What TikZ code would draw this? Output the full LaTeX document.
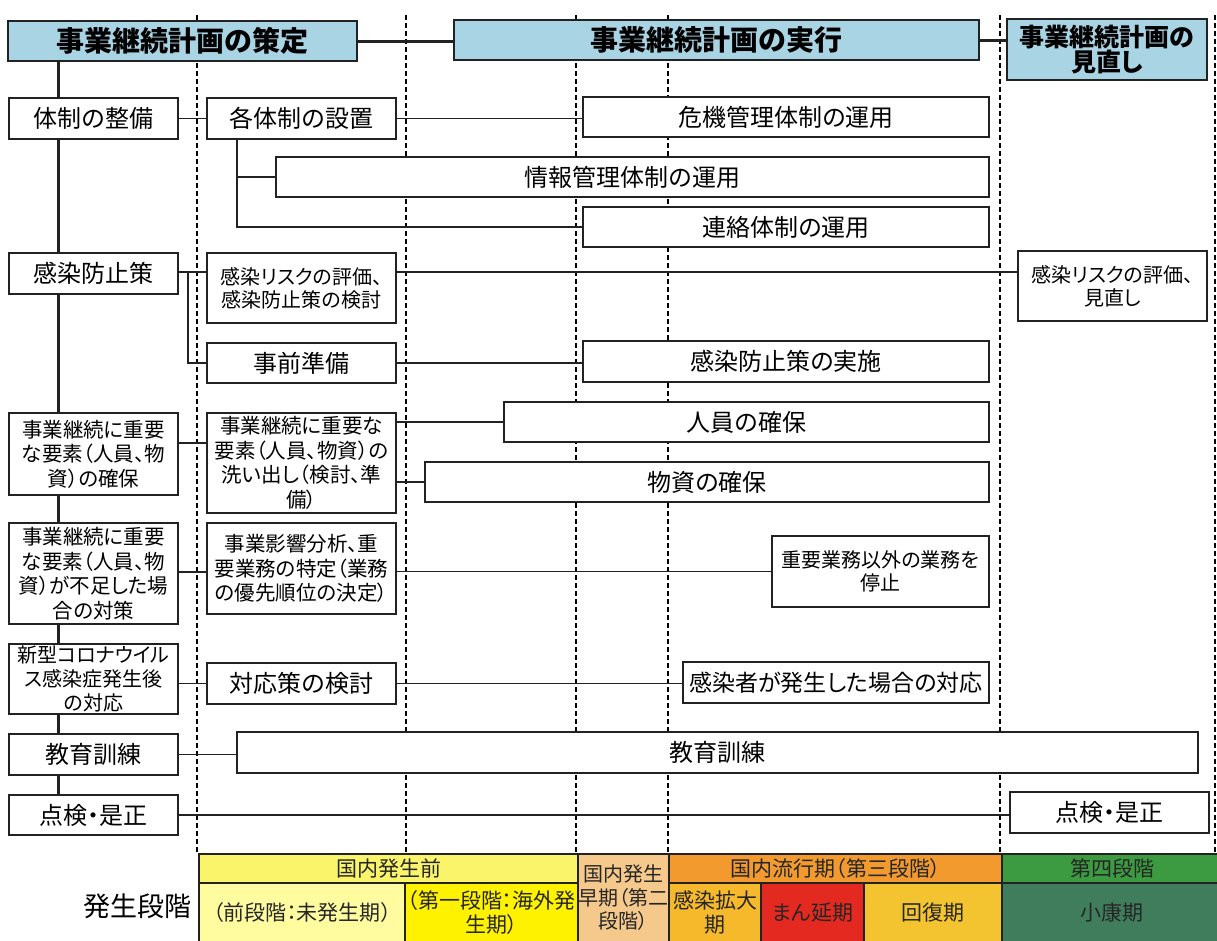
\documentclass[tikz,border=0pt]{standalone}
\usepackage{fontspec}
\setmainfont{Noto Sans CJK JP}[RawFeature=+palt]
\usetikzlibrary{calc}
\definecolor{headblue}{HTML}{A9D4E4}
\definecolor{linec}{HTML}{222222}
\definecolor{pyellowA}{HTML}{F9F46A}
\definecolor{pyellowB}{HTML}{FFFCA0}
\definecolor{pyellowC}{HTML}{FFF200}
\definecolor{ppeach}{HTML}{F5C88C}
\definecolor{porange}{HTML}{F29A2E}
\definecolor{pamber}{HTML}{F5B92B}
\definecolor{pred}{HTML}{E42A20}
\definecolor{pgold}{HTML}{F4C430}
\definecolor{pgreen}{HTML}{3C9A40}
\definecolor{pteal}{HTML}{3F7D5C}
\newcommand\myFh{\bfseries\fontsize{28}{30}\selectfont}
\newcommand\myFhb{\bfseries\fontsize{25}{25}\selectfont}
\newcommand\myFa{\fontsize{24}{28}\selectfont}
\newcommand\myFb{\fontsize{20}{23}\selectfont}
\newcommand\myFc{\fontsize{20.5}{24.5}\selectfont}
\newcommand\myFp{\fontsize{21}{24}\selectfont}
\begin{document}
\begin{tikzpicture}[x=1pt,y=-1pt,
  box/.style={draw=linec, line width=1.6pt, fill=white, inner sep=0pt, align=center, font=\myFa},
  headbox/.style={box, fill=headblue, line width=1.8pt, font=\myFh},
  conn/.style={draw=linec, line width=1.4pt},
  spineln/.style={draw=linec, line width=3pt},
  dashln/.style={draw=black, line width=1.1pt, dash pattern=on 5pt off 3pt},
  cell/.style={draw=linec, line width=1.2pt, inner sep=0pt, align=center, font=\myFp, text=black!85}]
\useasboundingbox (0,0) rectangle (1217,940);
\fill[white] (0,0) rectangle (1217,940);

% dashed phase separators
\foreach \xx in {197,406,576,668,1000,1215}
  \draw[dashln] (\xx,15) -- (\xx,854);

% header boxes
\node[headbox, minimum width=349pt, minimum height=40pt] (h1) at (182.5,41) {事業継続計画の策定};
\node[headbox, minimum width=525pt, minimum height=40pt] (h2) at (716.5,40) {事業継続計画の実行};
\node[headbox, minimum width=200pt, minimum height=61pt, font=\myFhb] (h3) at (1107,49.5) {事業継続計画の\\見直し};
\draw[spineln] (h1.east) -- (h1.east -| h2.west);
\draw[spineln] (h2.east) -- (h2.east -| h3.west);

\coordinate (spx) at (58,0);
\coordinate (bx) at (237,0);
\coordinate (brx) at (188,0);

% left column
\node[box, minimum width=169pt, minimum height=41pt] (L1) at (93.5,118.5) {体制の整備};
\node[box, minimum width=169pt, minimum height=41pt] (L2) at (93.5,273.5) {感染防止策};
\node[box, minimum width=169pt, minimum height=82pt, font=\myFc] (L3) at (93.5,454) {事業継続に重要\\な要素（人員、物\\資）の確保};
\node[box, minimum width=169pt, minimum height=101pt, font=\myFc] (L4) at (93.5,573.5) {事業継続に重要\\な要素（人員、物\\資）が不足した場\\合の対策};
\node[box, minimum width=169pt, minimum height=70pt, font=\fontsize{20}{24}\selectfont] (L5) at (93.5,679) {新型コロナウイル\\ス感染症発生後\\の対応};
\node[box, minimum width=169pt, minimum height=41pt] (L6) at (93.5,754.5) {教育訓練};
\node[box, minimum width=169pt, minimum height=40pt] (L7) at (93.5,815) {点検・是正};

% middle column
\node[box, minimum width=189pt, minimum height=41pt] (M1) at (301.5,118.5) {各体制の設置};
\node[box, minimum width=189pt, minimum height=70pt, font=\myFb] (M2) at (301.5,288) {感染リスクの評価、\\感染防止策の検討};
\node[box, minimum width=189pt, minimum height=40pt] (M3) at (301.5,363) {事前準備};
\node[box, minimum width=189pt, minimum height=100pt, font=\myFc] (M4) at (301.5,463) {事業継続に重要な\\要素（人員、物資）の\\洗い出し（検討、準\\備）};
\node[box, minimum width=189pt, minimum height=91pt, font=\myFc] (M5) at (301.5,568.5) {事業影響分析、重\\要業務の特定（業務\\の優先順位の決定）};
\node[box, minimum width=189pt, minimum height=41pt] (M6) at (301.5,683.5) {対応策の検討};

% right side
\node[box, minimum width=406pt, minimum height=40pt] (R1) at (786,117) {危機管理体制の運用};
\node[box, minimum width=713pt, minimum height=40pt] (R2) at (632.5,177) {情報管理体制の運用};
\node[box, minimum width=406pt, minimum height=40pt] (R3) at (786,227) {連絡体制の運用};
\node[box, minimum width=189pt, minimum height=70pt, font=\myFb] (R4) at (1112.5,286) {感染リスクの評価、\\見直し};
\node[box, minimum width=406pt, minimum height=41pt] (R5) at (786,361.5) {感染防止策の実施};
\node[box, minimum width=485pt, minimum height=40pt] (R6) at (746.5,422) {人員の確保};
\node[box, minimum width=564pt, minimum height=40pt] (R7) at (707,482) {物資の確保};
\node[box, minimum width=217pt, minimum height=71pt, font=\myFb] (R8) at (880.5,571.5) {重要業務以外の業務を\\停止};
\node[box, minimum width=306pt, minimum height=41pt, font=\fontsize{23}{26}\selectfont] (R9) at (836,682.5) {感染者が発生した場合の対応};
\node[box, minimum width=961pt, minimum height=41pt] (R10) at (717.5,752.5) {教育訓練};
\node[box, minimum width=199pt, minimum height=41pt] (R11) at (1109.5,812.5) {点検・是正};

% spine
\draw[spineln] (h1.south -| spx) -- (L1.north -| spx);
\draw[spineln] (L1.south -| spx) -- (L2.north -| spx);
\draw[spineln] (L2.south -| spx) -- (L3.north -| spx);
\draw[spineln] (L3.south -| spx) -- (L4.north -| spx);
\draw[spineln] (L4.south -| spx) -- (L5.north -| spx);
\draw[spineln] (L5.south -| spx) -- (L6.north -| spx);
\draw[spineln] (L6.south -| spx) -- (L7.north -| spx);

% connectors
\draw[conn] (L1.east) -- (L1.east -| M1.west);
\draw[conn] (M1.east) -- (M1.east -| R1.west);
\draw[conn] (M1.south -| bx) |- (R3.west);
\draw[conn] (bx |- R2.west) -- (R2.west);

\coordinate (yk) at (0,272);
\draw[conn] (L2.east |- yk) -- (M2.west |- yk);
\draw[conn] (brx |- yk) |- (M3.west);
\draw[conn] (M2.east |- yk) -- (R4.west |- yk);
\draw[conn] (M3.east) -- (M3.east -| R5.west);

\coordinate (yj) at (0,443);
\draw[conn] (L3.east |- yj) -- (M4.west |- yj);
\draw[conn] (M4.east |- R6.west) -- (R6.west);
\draw[conn] (M4.east |- R7.west) -- (R7.west);

\coordinate (yg) at (0,572);
\draw[conn] (L4.east |- yg) -- (M5.west |- yg);
\draw[conn] (M5.east |- R8.west) -- (R8.west);

\draw[conn] (L5.east |- M6.west) -- (M6.west);
\draw[conn] (M6.east) -- (M6.east -| R9.west);
\draw[conn] (L6.east) -- (L6.east -| R10.west);
\draw[conn] (L7.east) -- (L7.east -| R11.west);

% phase bar
\node[cell, fill=pyellowA, minimum width=379pt, minimum height=29pt] (P1) at (388.5,868.5) {国内発生前};
\node[cell, fill=pyellowB, minimum width=206pt, minimum height=59pt] (P1a) at (302,912.5) {（前段階：未発生期）};
\node[cell, fill=pyellowC, minimum width=173pt, minimum height=59pt] (P1b) at (491.5,912.5) {（第一段階：海外発\\生期）};
\node[cell, fill=ppeach, minimum width=91pt, minimum height=88pt, font=\fontsize{20}{23.5}\selectfont] (P2) at (623.5,898) {国内発生\\早期（第二\\段階）};
\node[cell, fill=porange, minimum width=333pt, minimum height=29pt] (P3) at (835.5,868.5) {国内流行期（第三段階）};
\node[cell, fill=pamber, minimum width=92pt, minimum height=59pt] (P3a) at (715,912.5) {感染拡大\\期};
\node[cell, fill=pred, minimum width=103pt, minimum height=59pt] (P3b) at (812.5,912.5) {まん延期};
\node[cell, fill=pgold, minimum width=138pt, minimum height=59pt] (P3c) at (933,912.5) {回復期};
\node[cell, fill=pgreen, minimum width=220pt, minimum height=29pt] (P4) at (1112,868.5) {第四段階};
\node[cell, fill=pteal, minimum width=220pt, minimum height=59pt] (P4a) at (1112,912.5) {小康期};
\node[font=\fontsize{27}{30}\selectfont, inner sep=0pt] (stage) at (137,906) {発生段階};
\end{tikzpicture}
\end{document}
